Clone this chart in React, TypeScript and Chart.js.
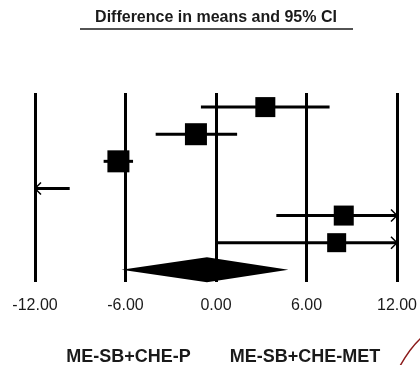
import React, { useEffect, useRef } from "react";
import { Chart, registerables } from "chart.js";

Chart.register(...registerables);

const title = "Difference in means and 95% CI";
const xTicks = [-12, -6, 0, 6, 12];
const groupLabels = ["ME-SB+CHE-P", "ME-SB+CHE-MET"];
const groupLabelX = [-5.8, 5.9];

// Studies (row index from top)
const rows = [1, 2, 3, 4, 5, 6];
const means = [3.27, -1.33, -6.47, -14.0, 8.47, 8.0];
const lower = [-1.0, -4.0, -7.45, -16.0, 4.0, 0.0];
const upper = [7.53, 1.4, -5.5, -9.7, 16.0, 16.0];
const weights = [20, 22, 22, 20, 20, 19];

// Summary diamond
const summaryRow = 7;
const summaryMean = -0.6;
const summaryLower = -6.27;
const summaryUpper = 4.8;

const X_MIN = -12;
const X_MAX = 12;

const FONT = "'Liberation Sans', Arial, sans-serif";

const forestPlugin = {
  id: "forest",
  afterDatasetsDraw(chart: any) {
    const ctx = chart.ctx;
    const xs = chart.scales.x;
    const ys = chart.scales.y;
    ctx.save();
    ctx.strokeStyle = "#000";
    ctx.fillStyle = "#000";
    rows.forEach((r, i) => {
      const y = ys.getPixelForValue(r);
      const lo = Math.max(lower[i], X_MIN);
      const hi = Math.min(upper[i], X_MAX);
      const x1 = xs.getPixelForValue(lo);
      const x2 = xs.getPixelForValue(hi);
      ctx.lineWidth = 3;
      ctx.beginPath();
      ctx.moveTo(x1, y);
      ctx.lineTo(x2, y);
      ctx.stroke();
      ctx.lineWidth = 1.5;
      if (lower[i] < X_MIN) {
        ctx.beginPath();
        ctx.moveTo(x1 + 6, y - 6);
        ctx.lineTo(x1, y);
        ctx.lineTo(x1 + 6, y + 6);
        ctx.stroke();
      }
      if (upper[i] > X_MAX) {
        ctx.beginPath();
        ctx.moveTo(x2 - 6, y - 6);
        ctx.lineTo(x2, y);
        ctx.lineTo(x2 - 6, y + 6);
        ctx.stroke();
      }
      if (means[i] >= X_MIN && means[i] <= X_MAX) {
        const cx = xs.getPixelForValue(means[i]);
        const s = weights[i];
        ctx.fillRect(cx - s / 2, y - s / 2, s, s);
      }
    });
    // diamond
    const dy = ys.getPixelForValue(summaryRow);
    const h = 12.5;
    ctx.beginPath();
    ctx.moveTo(xs.getPixelForValue(summaryLower), dy);
    ctx.lineTo(xs.getPixelForValue(summaryMean), dy - h);
    ctx.lineTo(xs.getPixelForValue(summaryUpper), dy);
    ctx.lineTo(xs.getPixelForValue(summaryMean), dy + h);
    ctx.closePath();
    ctx.fill();

    ctx.textAlign = "center";
    ctx.textBaseline = "middle";
    ctx.fillStyle = "#1a1a1a";

    // tick labels
    ctx.font = "16px " + FONT;
    xTicks.forEach((v) => {
      ctx.fillText(v.toFixed(2), xs.getPixelForValue(v), 306);
    });

    // title
    ctx.font = "bold 16px " + FONT;
    ctx.fillText(title, 216, 18);
    ctx.lineWidth = 1.5;
    ctx.strokeStyle = "#1a1a1a";
    ctx.beginPath();
    ctx.moveTo(80, 29);
    ctx.lineTo(353, 29);
    ctx.stroke();

    // group labels
    ctx.font = "bold 18px " + FONT;
    groupLabels.forEach((t, i) => {
      ctx.fillText(t, xs.getPixelForValue(groupLabelX[i]), 357);
    });

    // decorative red arc
    ctx.strokeStyle = "#8b1a1a";
    ctx.lineWidth = 1.5;
    ctx.beginPath();
    ctx.moveTo(400, 366);
    ctx.quadraticCurveTo(410, 348, 421, 338);
    ctx.stroke();
    ctx.restore();
  },
};

export default function App() {
  const ref = useRef<HTMLCanvasElement>(null);
  useEffect(() => {
    const chart = new Chart(ref.current!, {
      type: "scatter",
      data: { datasets: [{ data: [], pointRadius: 0 }] },
      options: {
        responsive: false,
        animation: false,
        layout: { padding: { left: 35, right: 23, top: 93, bottom: 83 } },
        plugins: { legend: { display: false }, tooltip: { enabled: false } },
        scales: {
          x: {
            type: "linear",
            min: X_MIN,
            max: X_MAX,
            afterBuildTicks: (s: any) => {
              s.ticks = xTicks.map((v) => ({ value: v }));
            },
            border: { display: false },
            grid: { color: "#000", lineWidth: 3, tickLength: 0, drawTicks: false },
            ticks: { display: false },
          },
          y: {
            type: "linear",
            reverse: true,
            min: 0.48,
            max: 7.45,
            display: false,
          },
        },
      },
      plugins: [forestPlugin],
    });
    return () => chart.destroy();
  }, []);
  return (
    <div style={{ position: "fixed", left: 0, top: 0, width: 420, height: 365, background: "#fff" }}>
      <canvas ref={ref} width={420} height={365} />
    </div>
  );
}
